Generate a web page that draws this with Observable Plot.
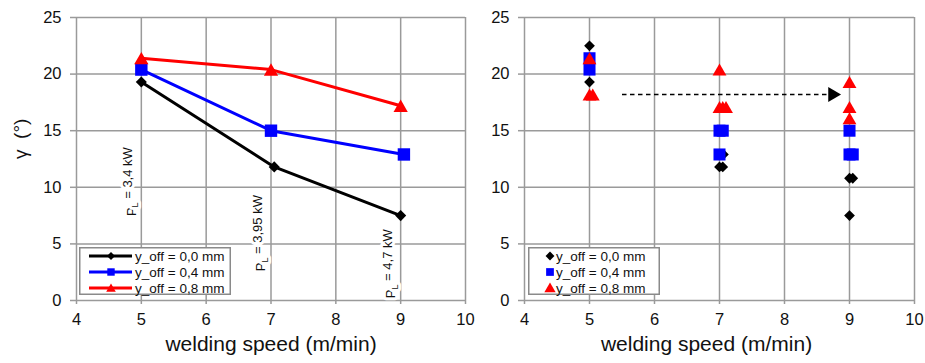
<!DOCTYPE html>
<html>
<head>
<meta charset="utf-8">
<script src="https://cdn.jsdelivr.net/npm/d3@7"></script>
<script src="https://cdn.jsdelivr.net/npm/@observablehq/plot@0.6"></script>
<style>
  body { margin: 0; background: #fff; font-family: "Liberation Sans", Arial, sans-serif; }
  #wrap { position: relative; width: 925px; height: 363px; display: flex; }
  #wrap svg { overflow: visible; }
  .legend { position: absolute; }
</style>
</head>
<body>
<div id="wrap"></div>
<script>
// ---------- data ----------
const xTicks = [4, 5, 6, 7, 8, 9, 10];
const yTicks = [0, 5, 10, 15, 20, 25];
const seriesNames = ["y_off = 0,0 mm", "y_off = 0,4 mm", "y_off = 0,8 mm"];
const seriesColors = ["#000000", "#0000ff", "#ff0000"];

// left panel: line chart
const lineX00 = [5, 7.05, 9];
const lineY00 = [19.3, 11.8, 7.5];
const lineX04 = [5, 7, 9.05];
const lineY04 = [20.4, 15.0, 12.9];
const lineX08 = [5, 7, 9];
const lineY08 = [21.4, 20.4, 17.2];

// laser power annotations
const powerSpeeds = [5, 7, 9];
const powerLabels = ["P_L = 3,4 kW", "P_L = 3,95 kW", "P_L = 4,7 kW"];
const powerLabelY = [10.5, 5.95, 3.25];

// right panel: scatter
const scatX00 = [5, 5, 7, 7.05, 7.06, 9, 9.05, 9];
const scatY00 = [22.5, 19.3, 11.8, 11.8, 12.9, 10.8, 10.8, 7.5];
const scatX04 = [5, 5, 7, 7.05, 7, 9, 9, 9.05];
const scatY04 = [21.4, 20.4, 15.0, 15.0, 12.9, 15.0, 12.9, 12.9];
const scatX08 = [5, 5, 5.05, 7, 7, 7.05, 7.1, 9, 9, 9];
const scatY08 = [21.4, 18.2, 18.2, 20.4, 17.1, 17.1, 17.1, 19.3, 17.1, 16.1];

// dashed arrow (right panel)
const arrowX = [5.5, 8.8];
const arrowY = [18.2, 18.2];

// ---------- helpers ----------
const pts = (xs, ys) => xs.map((x, i) => ({x, y: ys[i]}));
const GRID = "#9a9a9a";
const symbols = ["diamond2", "square", "triangle"];
const radii = [5.0, 7.0, 5.3];

function baseMarks() {
  return [
    Plot.gridX(xTicks, {stroke: GRID, strokeOpacity: 1, strokeWidth: 1.5}),
    Plot.gridY(yTicks, {stroke: GRID, strokeOpacity: 1, strokeWidth: 1.5}),
    Plot.axisX(xTicks, {tickSize: 4, tickPadding: 9, fontSize: 16.5, stroke: GRID, strokeWidth: 1.5, fill: "#111", label: null}),
    Plot.axisY(yTicks, {tickSize: 6, tickPadding: 9, fontSize: 16.5, stroke: GRID, strokeWidth: 1.5, fill: "#111", label: null})
  ];
}

function dots(data, k, extra = {}) {
  return Plot.dot(data, {x: "x", y: "y", symbol: () => symbols[k], r: radii[k],
    fill: seriesColors[k], stroke: "none", dy: k === 2 ? 2 : 0, ...extra});
}

// ---------- left panel ----------
const leftSeries = [pts(lineX00, lineY00), pts(lineX04, lineY04), pts(lineX08, lineY08)];
const labelData = powerSpeeds.map((s, i) => ({x: s, y: powerLabelY[i], t: powerLabels[i]}));

const left = Plot.plot({
  width: 470, height: 363,
  marginLeft: 76, marginRight: 5, marginTop: 17, marginBottom: 63,
  style: {fontFamily: "Liberation Sans, Arial, sans-serif", overflow: "visible"},
  x: {domain: [4, 10], ticks: xTicks},
  y: {domain: [0, 25], ticks: yTicks},
  marks: [
    ...baseMarks(),
    Plot.text(labelData, {x: "x", y: "y", text: "t", rotate: -90, dx: -10, fontSize: 13,
      fill: "#111", stroke: "white", strokeWidth: 6, textAnchor: "middle"}),
    ...leftSeries.map((d, k) => Plot.line(d, {x: "x", y: "y", stroke: seriesColors[k], strokeWidth: 3})),
    ...leftSeries.map((d, k) => dots(d, k)),
    Plot.text(["γ  (°)"], {frameAnchor: "left", dx: -56, rotate: -90, fontSize: 19, fill: "#111"}),
    Plot.text(["welding speed (m/min)"], {frameAnchor: "bottom", dy: 50, fontSize: 21, fill: "#111"})
  ]
});

// ---------- right panel ----------
const rightSeries = [pts(scatX00, scatY00), pts(scatX04, scatY04), pts(scatX08, scatY08)];
const arrowData = [{x1: arrowX[0], y1: arrowY[0], x2: arrowX[1], y2: arrowY[1]}];

const right = Plot.plot({
  width: 455, height: 363,
  marginLeft: 54, marginRight: 11, marginTop: 17, marginBottom: 63,
  style: {fontFamily: "Liberation Sans, Arial, sans-serif", overflow: "visible"},
  x: {domain: [4, 10], ticks: xTicks},
  y: {domain: [0, 25], ticks: yTicks},
  marks: [
    ...baseMarks(),
    Plot.link(arrowData, {x1: "x1", y1: "y1", x2: "x2", y2: "y2", stroke: "black", strokeWidth: 1.3,
      strokeDasharray: "4.5,3.5", dx: 0}),
    Plot.dot(arrowData, {x: "x2", y: "y2", symbol: "triangle", r: 5.5, rotate: 90, fill: "black", stroke: "none", dx: -4}),
    ...rightSeries.map((d, k) => dots(d, k, {r: radii[k] * 0.97})),
    Plot.text(["welding speed (m/min)"], {frameAnchor: "bottom", dy: 50, dx: -13, fontSize: 21, fill: "#111"})
  ]
});

// subscript L in the power labels
d3.select(left).selectAll("text").each(function() {
  const s = this.textContent;
  if (s.startsWith("P_L")) {
    const el = d3.select(this);
    el.text(null);
    el.append("tspan").text("P");
    el.append("tspan").attr("font-size", 9).attr("dy", "0.3em").text("L");
    el.append("tspan").attr("dy", "-0.45em").text(s.slice(3));
  }
});

const wrap = document.getElementById("wrap");
wrap.appendChild(left);
wrap.appendChild(right);

// ---------- legends ----------
function legend(left, top, w, withLines) {
  const h = 48;
  const svg = d3.create("svg").attr("class", "legend").attr("width", w).attr("height", h)
    .style("left", left + "px").style("top", top + "px");
  svg.append("rect").attr("x", 0.75).attr("y", 0.75).attr("width", w - 1.5).attr("height", h - 1.5)
    .attr("fill", "white").attr("stroke", "#8a8a8a").attr("stroke-width", 1.5);
  const symTypes = [d3.symbolDiamond2, d3.symbolSquare, d3.symbolTriangle];
  const symSizes = withLines ? [40, 55, 40] : [50, 60, 55];
  seriesNames.forEach((name, k) => {
    const cy = 9 + k * 16;
    const mx = withLines ? 32 : 22;
    if (withLines) {
      svg.append("line").attr("x1", 10).attr("x2", 53).attr("y1", cy).attr("y2", cy)
        .attr("stroke", seriesColors[k]).attr("stroke-width", 3);
    }
    svg.append("path").attr("d", d3.symbol(symTypes[k], symSizes[k])())
      .attr("transform", `translate(${mx},${cy + (k === 2 ? 1 : 0)})`).attr("fill", seriesColors[k]);
    svg.append("text").attr("x", withLines ? 56 : 28).attr("y", cy).attr("dy", "0.35em")
      .attr("font-size", 13.5).attr("fill", "#111").attr("font-family", "Liberation Sans, Arial, sans-serif")
      .text(name);
  });
  wrap.appendChild(svg.node());
}
legend(79, 247, 152, true);
legend(528, 247, 132, false);
</script>
</body>
</html>
